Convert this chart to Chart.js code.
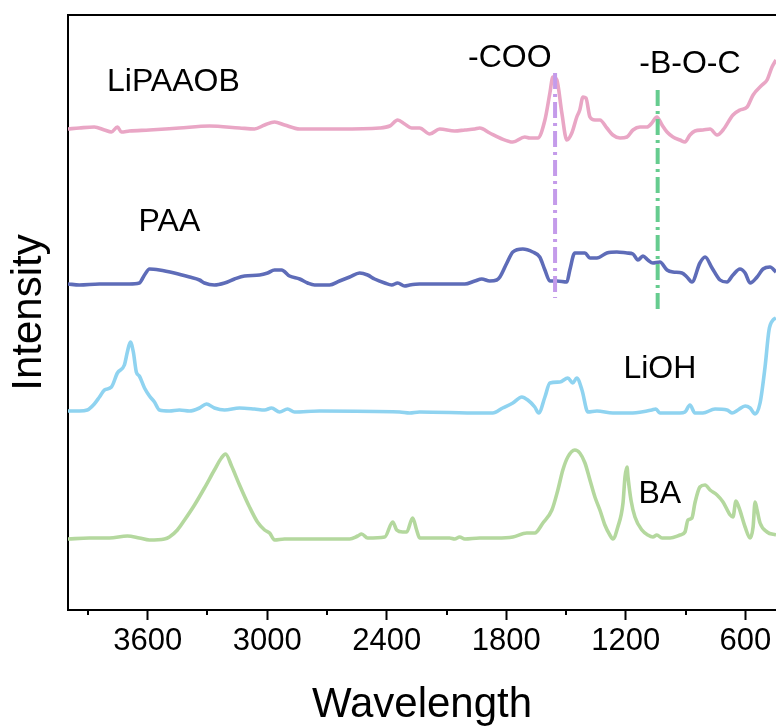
<!DOCTYPE html>
<html>
<head>
<meta charset="utf-8">
<script src="https://cdn.jsdelivr.net/npm/chart.js@4.4.1/dist/chart.umd.min.js"></script>
<style>
  html, body { margin: 0; padding: 0; background: #fff; overflow: hidden; }
</style>
</head>
<body>
<canvas id="chart" width="776" height="727"></canvas>
<script>
const FONT = "'Liberation Sans', Arial, sans-serif";

// x axis (wavenumber, reversed)
const xTicks = [3600, 3000, 2400, 1800, 1200, 600];
const xMinorTicks = [3900, 3300, 2700, 2100, 1500, 900];

// LiPAAOB (pink)
const lipaaobWave = [4000, 3943, 3868, 3817, 3782, 3752, 3732, 3692, 3591, 3441, 3290, 3139, 3064, 3013, 2963, 2913, 2837, 2637, 2436, 2385, 2345, 2310, 2275, 2235, 2184, 2134, 2059, 2008, 1958, 1933, 1883, 1832, 1767, 1707, 1682, 1642, 1606, 1581, 1566, 1546, 1521, 1496, 1471, 1446, 1431, 1415, 1400, 1380, 1355, 1330, 1295, 1265, 1229, 1194, 1164, 1129, 1094, 1069, 1044, 1018, 993, 963, 928, 903, 878, 853, 813, 777, 742, 712, 662, 627, 591, 561, 516, 491, 466, 446];
const lipaaobInt  = [481, 482, 483, 480, 478, 483, 478, 479, 480, 482, 484, 482, 481, 485, 488, 485, 481, 481, 482, 484, 490, 486, 482, 482, 476, 481, 479, 480, 481, 482, 477, 472, 468, 473, 472, 472, 490, 517, 533, 530, 497, 470, 477, 493, 500, 513, 512, 493, 490, 490, 482, 475, 472, 473, 480, 483, 483, 487, 493, 485, 478, 473, 470, 468, 475, 479, 480, 481, 475, 480, 495, 500, 503, 515, 525, 530, 543, 550];

// PAA (dark blue)
const paaWave = [4000, 3943, 3842, 3692, 3642, 3616, 3591, 3541, 3466, 3390, 3340, 3315, 3265, 3214, 3164, 3114, 3038, 2998, 2963, 2928, 2888, 2837, 2797, 2762, 2687, 2637, 2586, 2536, 2496, 2461, 2410, 2375, 2345, 2310, 2285, 2235, 2008, 1958, 1923, 1883, 1848, 1832, 1797, 1767, 1717, 1667, 1632, 1606, 1581, 1546, 1496, 1481, 1456, 1431, 1405, 1380, 1345, 1295, 1245, 1194, 1164, 1139, 1114, 1089, 1064, 1029, 993, 963, 918, 893, 868, 828, 802, 767, 727, 692, 662, 627, 601, 576, 541, 511, 476, 446];
const paaInt  = [326, 325, 326, 326, 327, 335, 341, 340, 337, 333, 330, 327, 325, 327, 331, 334, 335, 337, 340, 340, 334, 331, 327, 325, 325, 329, 333, 337, 335, 331, 327, 325, 327, 324, 325, 326, 326, 329, 331, 329, 330, 333, 347, 358, 361, 358, 353, 340, 329, 329, 328, 340, 357, 357, 357, 352, 352, 357, 358, 357, 356, 350, 354, 350, 347, 348, 340, 338, 337, 333, 328, 347, 353, 342, 330, 328, 335, 341, 337, 327, 333, 341, 343, 338];

// LiOH (light blue)
const liohWave = [4000, 3943, 3903, 3868, 3842, 3817, 3782, 3752, 3717, 3702, 3687, 3672, 3657, 3642, 3616, 3591, 3566, 3541, 3491, 3441, 3390, 3340, 3305, 3265, 3214, 3139, 3064, 3013, 2978, 2938, 2898, 2863, 2737, 2335, 2285, 2235, 1933, 1868, 1818, 1767, 1722, 1692, 1657, 1637, 1606, 1581, 1531, 1491, 1466, 1446, 1420, 1390, 1345, 1265, 1179, 1094, 1069, 1049, 1029, 928, 903, 878, 853, 813, 752, 692, 667, 637, 601, 576, 551, 526, 501, 481, 461, 446];
const liohInt  = [199, 199, 200, 206, 213, 220, 223, 237, 245, 258, 268, 258, 238, 234, 222, 214, 208, 200, 199, 200, 199, 202, 206, 202, 200, 202, 201, 200, 202, 198, 201, 198, 199, 198, 197, 198, 197, 197, 202, 207, 213, 210, 203, 197, 213, 227, 228, 232, 227, 232, 220, 198, 199, 197, 197, 199, 200, 201, 197, 197, 198, 205, 197, 197, 201, 200, 197, 200, 204, 202, 196, 207, 243, 280, 290, 292];

// BA (green)
const baWave = [4000, 3893, 3792, 3702, 3642, 3591, 3516, 3491, 3451, 3415, 3365, 3315, 3265, 3230, 3209, 3179, 3139, 3089, 3049, 3013, 2988, 2963, 2913, 2586, 2546, 2526, 2496, 2410, 2370, 2350, 2320, 2300, 2270, 2250, 2235, 2084, 2059, 2034, 2008, 1933, 1848, 1767, 1697, 1657, 1616, 1571, 1541, 1516, 1491, 1456, 1431, 1405, 1380, 1355, 1330, 1305, 1280, 1265, 1240, 1214, 1204, 1194, 1189, 1174, 1154, 1119, 1089, 1064, 1044, 1018, 978, 928, 903, 888, 868, 853, 828, 802, 777, 742, 712, 676, 662, 647, 631, 601, 576, 561, 551, 541, 526, 491, 446];
const baInt  = [71, 72, 72, 74, 72, 70, 71, 73, 80, 90, 105, 122, 140, 152, 156, 144, 125, 103, 88, 80, 77, 70, 71, 71, 74, 76, 72, 73, 88, 80, 78, 78, 92, 80, 72, 72, 71, 73, 71, 72, 72, 73, 77, 77, 87, 100, 120, 140, 153, 160, 157, 147, 130, 113, 100, 85, 75, 71, 83, 107, 133, 143, 133, 110, 93, 80, 75, 73, 75, 72, 72, 75, 78, 90, 92, 107, 123, 125, 120, 115, 108, 95, 93, 109, 102, 83, 72, 83, 108, 100, 87, 78, 75];

// marker lines: wavenumber and [top, bottom] intensity
const cooWave = 1555;
const cooRange = [537, 312];
const bocWave = 1040;
const bocRange = [520, 301];

// text labels: [text, wavenumber, intensity]
const labelTexts = ['LiPAAOB', 'PAA', 'LiOH', 'BA', '-COO', '-B-O-C'];
const labelWave  = [3471, 3491, 1029, 1029, 1782, 878];
const labelInt   = [519, 379, 232, 107, 543, 537];

const toPoints = (xs, ys) => xs.map((x, i) => ({ x, y: ys[i] }));

function series(data, color) {
  return {
    data,
    borderColor: color,
    borderWidth: 3.6,
    pointRadius: 0,
    cubicInterpolationMode: 'monotone',
  };
}

function marker(wave, range, color) {
  return {
    data: [{ x: wave, y: range[0] }, { x: wave, y: range[1] }],
    borderColor: color,
    borderWidth: 4,
    borderDash: [16, 5, 3, 5],
    pointRadius: 0,
    tension: 0,
  };
}

const framePlugin = {
  id: 'frame',
  afterDraw(chart) {
    const { ctx, chartArea } = chart;
    const x = chart.scales.x;
    ctx.save();
    ctx.strokeStyle = '#000';
    ctx.lineWidth = 2;
    ctx.beginPath();
    ctx.moveTo(chartArea.left - 1, chartArea.top);
    ctx.lineTo(chartArea.right, chartArea.top);
    // minor ticks
    xMinorTicks.forEach(v => {
      const px = Math.round(x.getPixelForValue(v));
      ctx.moveTo(px, chartArea.bottom);
      ctx.lineTo(px, chartArea.bottom + 5);
    });
    ctx.stroke();

    ctx.fillStyle = '#000';
    ctx.font = `32px ${FONT}`;
    ctx.textAlign = 'center';
    ctx.textBaseline = 'alphabetic';
    labelTexts.forEach((t, i) => {
      ctx.fillText(t, x.getPixelForValue(labelWave[i]), chart.scales.y.getPixelForValue(labelInt[i]));
    });
    ctx.restore();
  }
};

new Chart(document.getElementById('chart'), {
  type: 'line',
  data: {
    datasets: [
      marker(cooWave, cooRange, '#c49bea'),
      marker(bocWave, bocRange, '#66cc8f'),
      series(toPoints(lipaaobWave, lipaaobInt), '#e9a6c5'),
      series(toPoints(paaWave, paaInt), '#5e6cb8'),
      series(toPoints(liohWave, liohInt), '#8fd3f0'),
      series(toPoints(baWave, baInt), '#b4d89e'),
    ]
  },
  options: {
    responsive: false,
    animation: false,
    devicePixelRatio: 1,
    layout: { padding: { top: 15, right: 0, left: 0, bottom: 0 } },
    plugins: { legend: { display: false }, tooltip: { enabled: false } },
    scales: {
      x: {
        type: 'linear',
        reverse: true,
        min: 446,
        max: 4000,
        afterBuildTicks: s => { s.ticks = xTicks.map(v => ({ value: v })); },
        afterFit: s => { s.height = 117; s.paddingLeft = 0; s.paddingRight = 0; },
        grid: { display: true, drawOnChartArea: false, drawTicks: true, tickLength: 10, tickWidth: 2, tickColor: '#000' },
        border: { display: true, color: '#000', width: 2 },
        ticks: {
          color: '#000', padding: 3, maxRotation: 0, autoSkip: false,
          font: { family: FONT, size: 31 },
          callback: v => String(v)
        },
        title: {
          display: true, text: 'Wavelength', color: '#000',
          font: { family: FONT, size: 42, lineHeight: 1 },
          padding: { top: 0, bottom: 1 }
        }
      },
      y: {
        min: 0,
        max: 595,
        afterFit: s => { s.width = 68; },
        grid: { display: false },
        border: { display: true, color: '#000', width: 2 },
        ticks: { display: false },
        title: {
          display: true, text: 'Intensity', color: '#000',
          font: { family: FONT, size: 42 },
          padding: { top: 4, bottom: 4 }
        }
      }
    }
  },
  plugins: [framePlugin]
});
</script>
</body>
</html>
